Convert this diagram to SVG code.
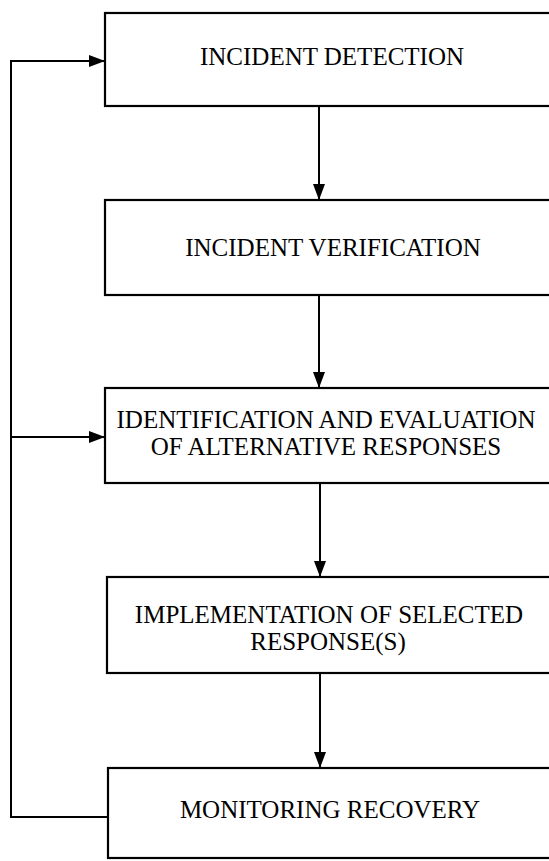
<svg xmlns="http://www.w3.org/2000/svg" width="549" height="861" viewBox="0 0 549 861">
<style>
.box{fill:#fff;stroke:#000;stroke-width:2.2}
.lbl{font-family:"Liberation Serif","Times New Roman",serif;font-size:25px;fill:#000;text-anchor:middle}
.con{fill:none;stroke:#000;stroke-width:2}
</style>
<defs>
<marker id="ah" markerUnits="userSpaceOnUse" markerWidth="16" markerHeight="12" refX="16" refY="6" orient="auto">
<path d="M0,0 L16,6 L0,12 z" fill="#000"/>
</marker>
</defs>
<rect width="549" height="861" fill="#fff"/>
<g id="n1"><rect class="box" x="105" y="13" width="460" height="93"/><text class="lbl" x="332" y="65">INCIDENT DETECTION</text></g>
<g id="n2"><rect class="box" x="105" y="200" width="460" height="95"/><text class="lbl" x="333" y="256">INCIDENT VERIFICATION</text></g>
<g id="n3"><rect class="box" x="105" y="388" width="460" height="95"/><text class="lbl" x="326" y="428">IDENTIFICATION AND EVALUATION</text><text class="lbl" x="326" y="455">OF ALTERNATIVE RESPONSES</text></g>
<g id="n4"><rect class="box" x="107" y="577" width="460" height="96"/><text class="lbl" x="329" y="623">IMPLEMENTATION OF SELECTED</text><text class="lbl" x="328" y="650">RESPONSE(S)</text></g>
<g id="n5"><rect class="box" x="108" y="768" width="460" height="90"/><text class="lbl" x="330" y="818">MONITORING RECOVERY</text></g>
<g id="connectors">
<line class="con" x1="319" y1="106" x2="319" y2="200" marker-end="url(#ah)"/>
<line class="con" x1="319" y1="295" x2="319" y2="388" marker-end="url(#ah)"/>
<line class="con" x1="320" y1="483" x2="320" y2="577" marker-end="url(#ah)"/>
<line class="con" x1="320" y1="673" x2="320" y2="768" marker-end="url(#ah)"/>
<path class="con" d="M108,817 H11 V61 H105" marker-end="url(#ah)"/>
<line class="con" x1="11" y1="437" x2="105" y2="437" marker-end="url(#ah)"/>
</g>
</svg>
